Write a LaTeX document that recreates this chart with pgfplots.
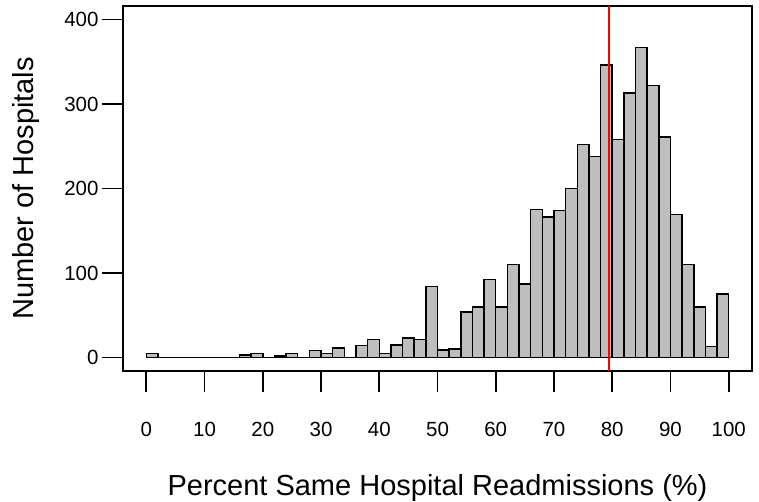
\documentclass[border=0pt]{standalone}
\usepackage{fontspec}
\setmainfont{Liberation Sans}
\usepackage{pgfplots}
\pgfplotsset{compat=1.18}
\definecolor{rgray}{HTML}{BEBEBE}
\definecolor{rred}{HTML}{FF0000}

\begin{document}
\begin{tikzpicture}
\begin{axis}[
    width=629pt, height=365pt, scale only axis,
    at={(0,0)}, anchor=south west,
    xmin=-4, xmax=104, ymin=-16, ymax=416,
    xtick={0,10,...,100}, ytick={0,100,...,400},
    tick pos=left, tick align=outside,
    major tick length=21pt,
    tick style={line width=1.6pt, black},
    axis line style={line width=1.6pt},
    /pgf/number format/assume math mode=true,
    ticklabel style={font=\fontsize{20.5}{24}\selectfont},
    xticklabel shift=27pt,
    yticklabel shift=0pt,
    label style={font=\fontsize{29}{34}\selectfont},
    xlabel={Percent Same Hospital Readmissions (\%)},
    ylabel={Number of Hospitals},
    xlabel style={at={(axis description cs:0.5,0)}, anchor=base, yshift=-124pt},
    ylabel style={at={(axis description cs:-0.1542,0.5)}, anchor=center},
]
% histogram, bins of width 2
\addplot[ybar interval, fill=rgray, draw=black, line width=1.5pt] coordinates {
(0,5) (2,0) (4,0) (6,0) (8,0) (10,0) (12,0) (14,0) (16,3) (18,5)
(20,0) (22,2) (24,5) (26,0) (28,8) (30,5) (32,11) (34,0) (36,14) (38,21)
(40,5) (42,15) (44,23) (46,21) (48,84) (50,9) (52,10) (54,54) (56,60) (58,92)
(60,60) (62,110) (64,87) (66,175) (68,166) (70,174) (72,200) (74,252) (76,238) (78,346)
(80,258) (82,313) (84,367) (86,322) (88,261) (90,169) (92,110) (94,60) (96,13) (98,75)
(100,75)
};
% mean line
\addplot[rred, line width=1.8pt] coordinates {(79.4,-16) (79.4,416)};
\end{axis}
\pgfresetboundingbox
\path[use as bounding box] (-123pt,-131pt) rectangle (636pt,371pt);
\end{tikzpicture}
\end{document}
